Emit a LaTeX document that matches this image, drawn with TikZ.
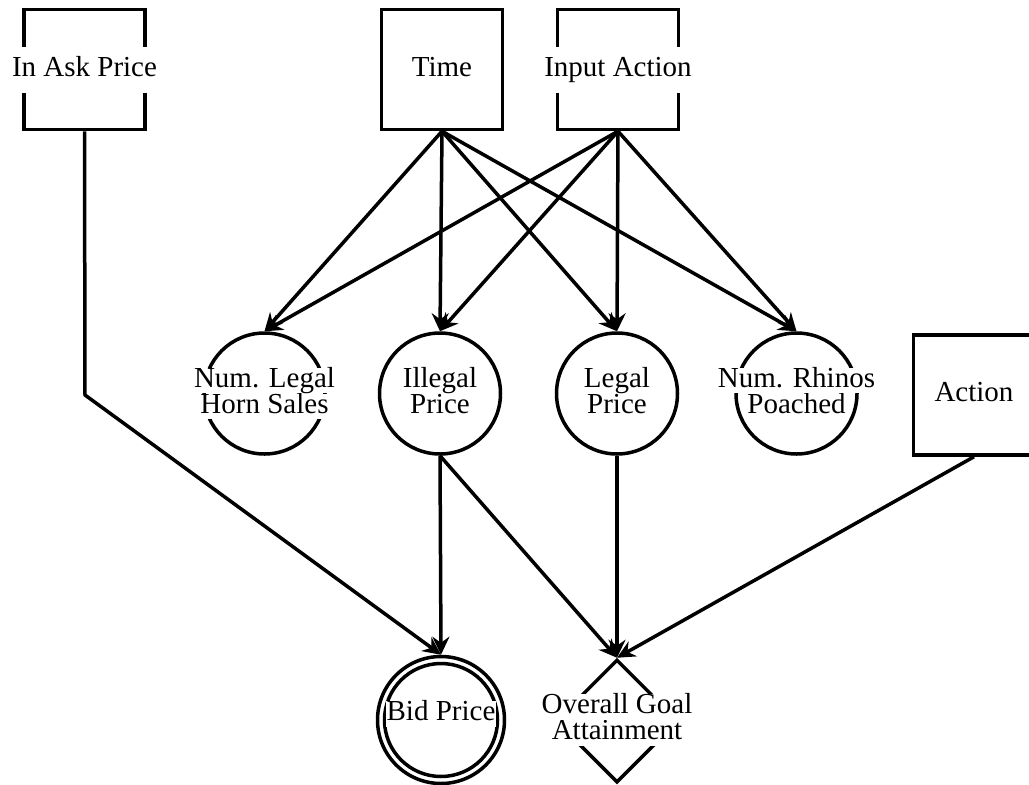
\documentclass[tikz,border=0pt]{standalone}
\usepackage{fontspec}
\setmainfont{Liberation Serif}
\usetikzlibrary{shapes.geometric,arrows.meta}

\begin{document}
\begin{tikzpicture}[x=1pt,y=-1pt,line width=3.5pt,
  box/.style={draw,rectangle,minimum width=121pt,minimum height=120pt,inner sep=0pt},
  var/.style={draw,circle,minimum size=121pt,inner sep=0pt},
  goal/.style={draw,diamond,minimum width=123pt,minimum height=123pt,inner sep=0pt},
  txt/.style={fill=white,inner xsep=1pt,text height=19.2pt,text depth=6pt,
              font=\fontsize{29}{26}\selectfont},
  single/.style={txt,inner ysep=10pt},
  txtrow/.style={txt,inner ysep=0pt},
  link/.style={-{Stealth[length=18pt,width=17pt,inset=6pt]}}]
  \useasboundingbox (0,0) rectangle (1029,785);
  \clip (0,0) rectangle (1029,785);

  % decision and chance nodes
  \node[box] (ask)   at (84.5,69.5) {};
  \node[box] (time)  at (442,69.5) {};
  \node[box] (input) at (618,69.5) {};
  \node[box] (act)   at (974,395) {};
  \node[var] (nls)   at (264.5,393.5) {};
  \node[var] (ill)   at (440,393.5) {};
  \node[var] (leg)   at (617,393.5) {};
  \node[var] (rhino) at (796.5,393.5) {};
  \node[circle,draw,minimum size=127pt,inner sep=0pt] (bid) at (441,720) {};
  \node[circle,draw,minimum size=113pt,inner sep=0pt] (bidin) at (441,720) {};
  \node[goal] (og) at (617,721) {};
  \coordinate (askbend) at (85,395);

  % influences
  \draw[link] (ask.south) -- (askbend) -- (bid.north);
  \foreach \t in {nls,ill,leg,rhino} {
    \draw[link] (time.south) -- (\t.north);
    \draw[link] (input.south) -- (\t.north);
  }
  \draw[link] (ill.south) -- (bid.north);
  \draw[link] (ill.south) -- (og.north);
  \draw[link] (leg.south) -- (og.north);
  \draw[link] (act.south) -- (og.north);

  % labels (second lines first, so descenders of first lines stay on top)
  \node[single] (tAsk)   at (84.5,70) {In Ask Price};
  \node[single] (tTime)  at (442,70) {Time};
  \node[single] (tInput) at (618,70) {Input Action};
  \node[single] (tAct)   at (974,395) {Action};
  \node[txtrow] (tNls2)  at (264.5,406.5) {Horn Sales};
  \node[txtrow] (tNls1)  at (264.5,380.5) {Num. Legal};
  \node[txtrow] (tIll2)  at (440,406.5) {Price};
  \node[txtrow] (tIll1)  at (440,380.5) {Illegal};
  \node[txtrow] (tLeg2)  at (617,406.5) {Price};
  \node[txtrow] (tLeg1)  at (617,380.5) {Legal};
  \node[txtrow] (tRh2)   at (796.5,406.5) {Poached};
  \node[txtrow] (tRh1)   at (796.5,380.5) {Num. Rhinos};
  \node[txtrow] (tBid)   at (441,714) {Bid Price};
  \node[txtrow] (tOg2)   at (617,733) {Attainment};
  \node[txtrow] (tOg1)   at (617,707) {Overall Goal};
\end{tikzpicture}
\end{document}
